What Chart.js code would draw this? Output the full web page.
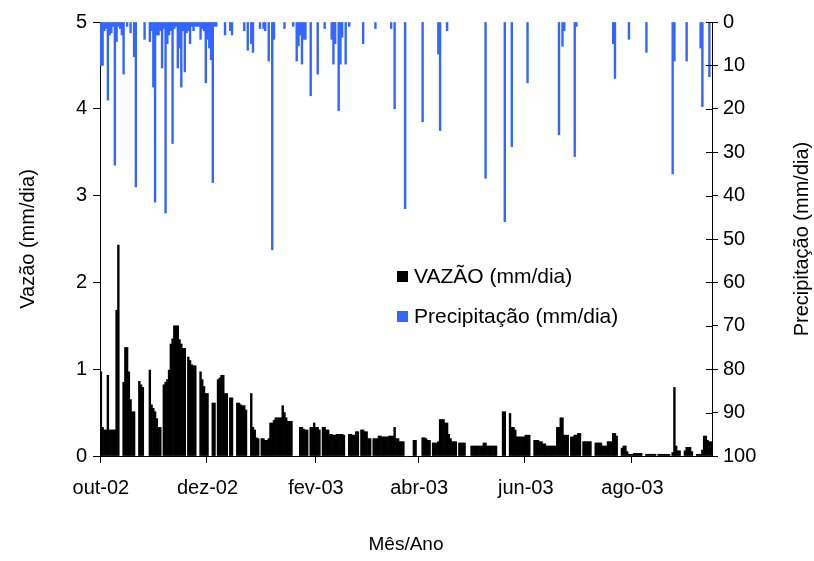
<!DOCTYPE html>
<html>
<head>
<meta charset="utf-8">
<script src="https://cdn.jsdelivr.net/npm/chart.js@4.4.1/dist/chart.umd.min.js"></script>
<style>
  html, body { margin: 0; padding: 0; background: #fff; }
  #wrap { width: 814px; height: 561px; }
</style>
</head>
<body>
<div id="wrap"><canvas id="hidroChart" width="814" height="561"></canvas></div>
<script>
// Dados diarios de 01/10/2002 ate 15/09/2003 (350 dias)
const startDate = new Date(2002, 9, 1);
const nDays = 350;

// Rotulos do eixo X (indice do dia -> texto)
const tickIndex = [0, 61, 123, 182, 243, 304];
const tickLabels = ['out-02', 'dez-02', 'fev-03', 'abr-03', 'jun-03', 'ago-03'];

// Vazao (mm/dia)
const vazao = [
  0.97, 0.33, 0.30, 0.30, 0.93, 0.30, 0.30, 0.30, 0.30, 1.68,
  2.43, 0, 0, 0.85, 1.25, 1.25, 0.97, 0.65, 0.51, 0.51,
  0, 0, 0.86, 0.82, 0.79, 0, 0, 0, 0.99, 0.59,
  0.55, 0.51, 0.43, 0.33, 0.33, 0, 0.82, 0.85, 0.88, 0.99,
  1.29, 1.35, 1.50, 1.50, 1.50, 1.34, 1.29, 1.24, 1.24, 0,
  1.14, 1.10, 1.05, 1.04, 1.04, 0, 0, 0.97, 0.88, 0.80,
  0.72, 0.72, 0, 0, 0.61, 0.61, 0, 0.88, 0.90, 0.93,
  0.93, 0.72, 0.72, 0, 0.67, 0.67, 0, 0, 0.61, 0.61,
  0.59, 0.58, 0.58, 0.53, 0, 0, 0.72, 0.33, 0.30, 0.21,
  0.20, 0, 0.20, 0.20, 0.18, 0.18, 0.20, 0.38, 0.38, 0.41,
  0.44, 0.44, 0.44, 0.44, 0.58, 0.50, 0.44, 0.40, 0.40, 0.40,
  0, 0, 0, 0, 0.33, 0.33, 0.31, 0.30, 0.30, 0,
  0.33, 0.33, 0.38, 0.33, 0.33, 0.30, 0, 0.33, 0.33, 0.30,
  0.30, 0.25, 0.25, 0.24, 0.24, 0.25, 0.25, 0.25, 0.25, 0.24,
  0, 0, 0.25, 0.25, 0.24, 0.24, 0.28, 0.28, 0, 0.30,
  0.30, 0.28, 0.28, 0.20, 0.20, 0, 0.20, 0.20, 0.20, 0.23,
  0.23, 0.22, 0.22, 0.22, 0.22, 0.23, 0.23, 0.23, 0.33, 0.20,
  0.20, 0.165, 0.165, 0.165, 0, 0, 0, 0, 0, 0.18,
  0.18, 0, 0, 0, 0.21, 0.21, 0.20, 0.18, 0.18, 0,
  0.15, 0.15, 0.15, 0.165, 0.42, 0.42, 0.42, 0.38, 0.38, 0.25,
  0.20, 0.165, 0.165, 0.165, 0, 0.15, 0.15, 0.15, 0.15, 0,
  0, 0, 0.115, 0.115, 0.115, 0.115, 0.115, 0.115, 0.115, 0.15,
  0.15, 0.115, 0.115, 0.115, 0.115, 0.115, 0.115, 0, 0, 0,
  0.51, 0.51, 0, 0, 0.49, 0.33, 0.33, 0.30, 0.22, 0.22,
  0.22, 0.22, 0.22, 0.24, 0.24, 0.24, 0, 0, 0.18, 0.18,
  0.18, 0.165, 0.165, 0.14, 0.14, 0.115, 0.115, 0.115, 0.115, 0.115,
  0.115, 0.33, 0.33, 0.44, 0.44, 0.24, 0.24, 0.24, 0, 0.22,
  0.22, 0.24, 0.24, 0.26, 0.26, 0, 0.165, 0.165, 0.165, 0.165,
  0.165, 0, 0, 0.15, 0.15, 0.15, 0.15, 0.115, 0.115, 0.115,
  0.165, 0.165, 0.165, 0.26, 0.26, 0.23, 0, 0, 0.09, 0.115,
  0.115, 0.05, 0.02, 0.02, 0.02, 0.03, 0.03, 0.03, 0.03, 0.03,
  0, 0, 0.02, 0.02, 0.02, 0.02, 0.02, 0.02, 0, 0.02,
  0.02, 0.02, 0.02, 0.02, 0.02, 0.02, 0, 0.04, 0.79, 0.115,
  0.06, 0.06, 0, 0, 0.06, 0.10, 0.10, 0.10, 0.05, 0,
  0, 0.02, 0.02, 0.02, 0.07, 0.23, 0.23, 0.18, 0.165, 0.165
];

// Precipitacao (mm/dia)
const precipitacao = [
  10, 10, 2, 1.5, 18, 3, 2.5, 1, 33, 4.5,
  1, 1.5, 3, 12, 0, 1, 0, 2.5, 0, 8,
  38, 0, 0, 0, 0, 4, 0, 0, 4.5, 2,
  15, 41.5, 3, 3, 2, 10.6, 1.5, 44, 5, 3,
  2, 28, 1.5, 1, 10.6, 6, 15, 2, 11.5, 2.5,
  2, 5, 1, 2, 1, 1, 1, 4, 1.5, 2,
  14, 4, 6, 8.7, 37, 1, 1, 0, 0, 0,
  0, 3, 0, 0, 2, 3, 0, 0, 0, 0,
  0, 0, 2, 0, 6.5, 0, 5, 7, 0, 0,
  0, 1.5, 0, 1.5, 2, 0, 9, 0, 52.5, 4,
  0, 0, 0, 0, 0, 1.5, 0, 0, 0, 0,
  1, 0, 9, 5.5, 3, 9.7, 4, 4, 0, 0,
  17, 0, 0, 0, 12, 0, 0, 0, 1.5, 0,
  0, 0, 4, 9.7, 5, 0, 20.4, 9.7, 3.5, 0,
  9.7, 0, 1, 0, 0, 0, 0, 0, 0, 0,
  5, 0, 0, 0, 0, 0, 0, 1.5, 0, 0,
  0, 0, 0, 0, 0, 0, 1.5, 0, 20, 0,
  0, 0, 0, 0, 43, 0, 0, 0, 0, 0,
  0, 0, 0, 0, 23, 0, 0, 0, 0, 0,
  0, 0, 0, 7.4, 25, 0, 0, 0, 2, 0,
  0, 0, 0, 0, 0, 0, 0, 0, 0, 0,
  0, 0, 0, 0, 0, 0, 0, 0, 0, 0,
  36, 0, 0, 0, 0, 0, 0, 0, 0, 0,
  0, 46, 0, 0, 0, 28.7, 0, 0, 0, 0,
  0, 0, 0, 0, 14, 0, 0, 0, 0, 0,
  0, 0, 0, 0, 0, 0, 0, 0, 0, 0,
  0, 0, 26, 0, 5.6, 2, 0, 0, 0, 0,
  0, 31, 1, 0, 0, 0, 0, 0, 0, 0,
  0, 0, 0, 0, 0, 0, 0, 0, 0, 0,
  0, 0, 0, 5, 13, 0, 0, 0, 0, 0,
  0, 0, 4, 0, 0, 0, 0, 0, 0, 0,
  0, 0, 7, 0, 0, 0, 0, 0, 0, 0,
  0, 0, 0, 0, 0, 0, 0, 35, 9, 0,
  0, 0, 0, 0, 0, 9, 0, 0, 0, 0,
  0, 0, 0, 6, 19.5, 0, 0, 0, 12.6, 0
];

// categorias: um rotulo por dia
const dias = [];
for (let i = 0; i < nDays; i++) {
    const d = new Date(startDate.getTime());
    d.setDate(d.getDate() + i);
    dias.push(d.toISOString().slice(0, 10));
}

// dias sem valor nao desenham barra (evita linha fina no eixo)
const semZero = arr => arr.map(v => (v === 0 ? null : v));

const FONT = 'Liberation Sans, Arial, sans-serif';

// legenda dentro do grafico, titulo do eixo direito e marcas internas
const extrasPlugin = {
    id: 'extras',
    afterDraw(chart) {
        const ctx = chart.ctx;
        ctx.save();

        // marcas do eixo direito cruzando a linha
        const y2 = chart.scales.y2;
        ctx.strokeStyle = '#000';
        ctx.lineWidth = 1;
        y2.ticks.forEach(t => {
            const py = Math.round(y2.getPixelForValue(t.value)) + 0.5;
            ctx.beginPath();
            ctx.moveTo(y2.left - 6, py);
            ctx.lineTo(y2.left, py);
            ctx.stroke();
        });

        // titulo do eixo direito (lido de baixo para cima)
        const area = chart.chartArea;
        ctx.fillStyle = '#000';
        ctx.font = '20px ' + FONT;
        ctx.textAlign = 'center';
        ctx.textBaseline = 'middle';
        ctx.translate(802, (area.top + area.bottom) / 2);
        ctx.rotate(-Math.PI / 2);
        ctx.fillText('Precipitação (mm/dia)', 0, 0);
        ctx.setTransform(1, 0, 0, 1, 0, 0);

        // legenda
        ctx.font = '21px ' + FONT;
        ctx.textAlign = 'left';
        chart.data.datasets.forEach((ds, i) => {
            const cy = 276 + i * 40;
            ctx.fillStyle = ds.backgroundColor;
            ctx.fillRect(397, cy - 5, 11, 11);
            ctx.fillStyle = '#000';
            ctx.fillText(ds.label, 414, cy + 1);
        });
        ctx.restore();
    }
};

new Chart(document.getElementById('hidroChart'), {
    type: 'bar',
    data: {
        labels: dias,
        datasets: [
            {
                label: 'VAZÃO (mm/dia)',
                data: semZero(vazao),
                yAxisID: 'y',
                backgroundColor: '#000000',
                grouped: false,
                barPercentage: 1,
                categoryPercentage: 1
            },
            {
                label: 'Precipitação (mm/dia)',
                data: semZero(precipitacao),
                yAxisID: 'y2',
                backgroundColor: '#3366FF',
                grouped: false,
                barPercentage: 1,
                categoryPercentage: 1
            }
        ]
    },
    options: {
        responsive: false,
        animation: false,
        layout: { padding: { top: 22, left: 0, right: 0, bottom: 0 } },
        plugins: {
            legend: { display: false },
            tooltip: { enabled: false }
        },
        scales: {
            x: {
                type: 'category',
                afterFit: s => { s.height = 105; },
                border: { display: true, color: '#000', width: 1 },
                grid: {
                    drawOnChartArea: false,
                    drawTicks: true,
                    tickLength: 7,
                    color: '#000',
                    tickColor: c => tickIndex.includes(c.index) ? '#000' : 'rgba(0,0,0,0)'
                },
                ticks: {
                    autoSkip: false,
                    maxRotation: 0,
                    minRotation: 0,
                    padding: 13,
                    color: '#000',
                    font: { family: FONT, size: 20 },
                    callback: (v, i) => {
                        const k = tickIndex.indexOf(i);
                        return k >= 0 ? tickLabels[k] : '';
                    }
                },
                title: {
                    display: true,
                    text: 'Mês/Ano',
                    color: '#000',
                    font: { family: FONT, size: 19 },
                    padding: { top: 0, bottom: 5 }
                }
            },
            y: {
                position: 'left',
                min: 0,
                max: 5,
                afterFit: s => { s.width = 100; },
                border: { display: true, color: '#000', width: 1 },
                grid: { drawOnChartArea: false, tickLength: 7, color: '#000' },
                ticks: {
                    stepSize: 1,
                    padding: 6,
                    color: '#000',
                    font: { family: FONT, size: 20 }
                },
                title: {
                    display: true,
                    text: 'Vazão (mm/dia)',
                    color: '#000',
                    font: { family: FONT, size: 20 },
                    padding: { top: 16, bottom: 0 }
                }
            },
            y2: {
                position: 'right',
                reverse: true,
                min: 0,
                max: 100,
                afterFit: s => { s.width = 102; },
                border: { display: true, color: '#000', width: 1 },
                grid: { drawOnChartArea: false, tickLength: 6, color: '#000' },
                ticks: {
                    stepSize: 10,
                    padding: 5,
                    color: '#000',
                    font: { family: FONT, size: 20 }
                }
            }
        }
    },
    plugins: [extrasPlugin]
});
</script>
</body>
</html>
